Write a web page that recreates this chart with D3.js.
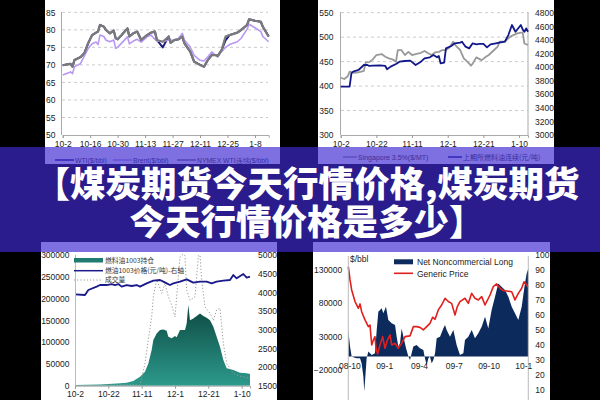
<!DOCTYPE html>
<html>
<head>
<meta charset="utf-8">
<script src="https://cdn.jsdelivr.net/npm/d3@7"></script>
<style>
  body { margin: 0; background: #000; }
  svg { display: block; }
</style>
</head>
<body>
<div id="chart"></div>
<script>
// Panel 1: crude oil prices (days since 10-2)
const oilDays = [0,4,5,6,9,11,13,15,17,18,19,21,22,24,26,27,28,30,33,34,36,38,40,43,45,47,48,51,54,55,57,59,61,62,65,67,70,72,74,76,78,79,81,83,85,89,91,94,95,98,101,102,105];
const wti = [69.9,70.3,69.5,71.4,72.2,73.3,76.2,78.5,79.2,79.5,81.4,80.9,80.0,79.0,79.8,77.6,77.3,78.5,80.4,78.1,79.0,79.5,77.1,78.5,79.2,79.5,77.1,75.0,78.1,76.3,77.1,77.3,78.1,76.2,73.8,70.9,70.0,69.5,71.4,72.8,72.8,72.5,74.2,77.0,78.5,79.2,80.0,81.4,83.0,82.6,82.3,80.9,78.1];
const brent = [67.1,68.0,67.5,69.5,70.3,72.5,74.7,76.0,76.5,75.8,78.5,78.1,77.1,76.6,77.1,74.7,75.0,76.2,78.0,76.0,76.8,77.3,76.5,78.0,78.5,77.3,76.8,76.6,77.1,77.0,77.1,77.5,79.0,77.1,75.1,72.7,71.3,71.1,72.3,73.7,72.7,72.3,73.8,75.0,75.8,76.6,77.6,80.2,81.6,80.6,79.5,78.1,76.6];
const nymex = [69.9,70.3,69.5,71.4,72.2,73.3,76.2,78.5,79.2,79.5,81.4,80.9,80.0,79.0,79.8,77.6,77.3,78.5,80.4,78.1,79.0,79.5,77.1,78.5,79.2,79.5,77.1,76.6,78.1,76.3,77.1,77.3,78.1,76.2,73.8,70.9,70.0,69.5,71.4,72.8,72.8,72.5,74.2,78.1,78.5,79.2,80.0,81.4,83.0,82.6,82.3,80.9,78.1];
const oilTickDays = [0,14,28,42,56,70,84,98];
const oilTickLabels = ["10-2","10-16","10-30","11-13","11-27","12-11","12-25","1-8"];
const oilYTicks = [50,55,60,65,70,75,80,85];
const oilLegend = ["WTI($/bbl)","Brent($/bbl)","NYMEX WTI连续($/bbl)"];

// Panel 2: fuel oil, Singapore vs Shanghai
const sgDays = [0,2,4,5,8,11,13,14,16,18,20,23,25,27,29,31,32,34,36,38,40,42,45,47,49,51,53,55,57,59,61,63,65,67,69,71,73,74,76,79,81,83,86,88,89,92,95,99,102,103,105];
const singapore = [417,414.5,420,429.5,427,429,431,448.5,449,454.6,463.5,465.5,460,456.7,454.6,450,473.7,473.7,463.5,470,463.5,465.5,468,471.7,467,463.5,469,470,473.7,473.7,479,490.7,480.5,473.7,456.7,450,441.7,446,458.7,453,458.7,463.5,473.7,480.5,490.7,490.7,501,507.8,509.8,487,484];
const shDays = [0,5,6,7,10,13,15,16,18,22,25,26,28,31,33,36,39,42,45,47,50,52,54,55,56,58,59,62,64,67,68,70,72,74,76,78,80,82,84,87,89,92,94,96,98,101,102,103,104,105];
const shanghai = [3712,3712,3908,3932,3957,4030,4030,4016,4020,4025,4016,3967,4006,4045,4079,4089,4094,4030,4079,4128,4143,4177,4143,4162,4055,4065,4275,4310,4349,4359,4373,4300,4275,4349,4334,4340,4340,4290,4334,4349,4359,4373,4471,4619,4520,4619,4555,4520,4570,4520];
const fuelTickDays = [0,20,40,60,80,100];
const fuelTickLabels = ["10-2","10-22","11-11","12-1","12-21","1-10"];
const fuelLeftTicks = [300,350,400,450,500,550];
const fuelRightTicks = [3000,3200,3400,3600,3800,4000,4200,4400,4600,4800];
const fuelLegend = ["Singapore 3.5%($/MT)","上期所燃料油连续(元/吨)"];

// Panel 3: fuel oil 1003 open interest, price, volume
const oiDays = [0,15,25,31,35,39,42,44,46,47,49,51,53,55,56,58,60,61,63,66,67,68,69,71,73,75,77,79,81,83,85,87,89,91,95,99,103,105];
const openInterest = [1500,3000,5000,7000,11000,20700,32000,51000,82000,105000,120000,128000,129000,126000,112500,108700,114000,111000,128000,128000,143000,185000,150000,154000,160000,166000,160000,156000,150000,135500,112500,89500,59000,40000,36000,30000,28300,26800];
const priceDays = [0,6,8,13,15,19,22,24,26,28,31,34,37,39,43,47,51,53,55,57,59,63,67,71,75,79,82,85,89,93,95,97,101,103,105];
const price1003 = [3946,3929,4062,4152,4196,4196,4223,4196,4223,4152,4196,4170,4196,4152,4241,4312,4330,4286,4241,4196,4241,4286,4348,4259,4286,4286,4241,4286,4312,4330,4464,4375,4491,4393,4420];
const volDays = [0,20,30,39,42,44,46,47,49,51,52,54,56,58,60,61,63,65,66,67,69,72,74,75,76,78,81,83,85,87,89,91,95,99,105];
const volume = [0,1000,2000,1800,51000,105000,158000,204000,243000,224000,212000,235000,204000,185000,158000,204000,296000,302000,298000,220000,196000,204000,298000,300000,243000,181000,166000,150000,174000,178000,97000,51000,28000,22000,17000];
const oiLeftTicks = [0,50000,100000,150000,200000,250000,300000];
const oiRightTicks = [1500,2000,2500,3000,3500,4000,4500,5000];
const oiLegend = ["燃料油1003持仓","燃油1003价格(元/吨)-右轴","成交量"];

// Panel 4: net noncommercial long vs generic price (months since 08-10)
const nncMonths = [-0.09,0.06,0.2,0.34,0.63,0.92,1.06,1.21,1.29,1.38,1.49,1.64,1.93,2.21,2.36,2.5,2.79,2.93,3.16,3.36,3.65,3.94,4.08,4.22,4.37,4.51,4.66,4.89,5.09,5.23,5.37,5.52,5.8,6.09,6.38,6.52,6.67,6.81,6.95,7.1,7.24,7.39,7.53,7.82,8.1,8.25,8.39,8.68,8.97,9.25,9.54,9.83,9.97,10.26,10.55,10.83,11.12,11.41,11.7,11.98,12.27,12.56,12.84,12.99,13.42,13.71,14,14.28,14.57,14.86,15.14,15.29,15.43];
const nncLong = [39600,14850,0,-1000,-2500,-2500,-9900,-29700,-52000,-29700,-2500,7400,2500,5000,39600,66800,71800,64400,74300,54500,49500,47000,29700,14850,19800,42000,29700,12400,0,-5000,5000,14850,17300,12400,9900,-2500,-12400,-2500,0,-9900,-5000,4950,27200,29700,42000,47000,39600,29700,39600,17300,2500,4950,24750,29700,39600,27200,34700,44600,59400,42000,69300,89100,108900,106400,99000,89100,74300,64400,54500,74300,108900,123800,131200];
const gpMonths = [-0.09,0.06,0.2,0.49,0.78,0.92,1.06,1.35,1.64,1.78,1.93,2.07,2.21,2.3,2.44,2.64,2.87,3.07,3.28,3.51,3.65,3.94,4.22,4.51,4.8,5.23,5.52,5.8,6.09,6.38,6.67,6.95,7.18,7.39,7.67,7.96,8.25,8.53,8.82,9.11,9.31,9.54,9.97,10.26,10.55,10.83,11.12,11.41,11.7,12.13,12.41,12.7,12.99,13.28,13.56,14,14.28,14.57,14.86,15.06,15.29,15.43];
const genericPrice = [92.2,83.3,76.6,68.8,64.3,67.2,62,56.5,52,53.1,39.7,43,45.3,37.5,33.7,39.7,45.3,37.5,43,46.4,39.7,40.8,37.5,40.8,45.3,45.8,52,52,51.5,49.8,52,54.2,58.3,56.9,63.2,66.5,71,68.8,67.6,59.8,65.4,68.8,71,67.6,74.3,71,69.9,72.1,66.5,73.2,78.8,80.6,77.7,76.1,75.9,75.4,69.9,74.3,77.7,82.1,79.9,78.3];
const cftcTickMonths = [0,3,6,9,12,15];
const cftcTickLabels = ["08-10","09-1","09-4","09-7","09-10","10-1"];
const cftcLeftTicks = [130000,80000,30000,-20000];
const cftcRightTicks = [10,20,30,40,50,60,70,80,90,100];

// Banner text
const bannerLines = ["【煤炭期货今天行情价格,煤炭期货", "今天行情价格是多少】"];

const width = 600;
const height = 400;
const font = "'Liberation Sans', Arial, sans-serif";
const cjk = "'Noto Sans CJK SC', sans-serif";
const plain = d3.format("d");

// Create the SVG Container
const svg = d3.select("#chart")
  .append("svg")
  .attr("width", width)
  .attr("height", height);

svg.append("rect").attr("width", width).attr("height", height).attr("fill", "#000");

// Helper to style axes
function styleAxis(g, noDomain) {
  g.attr("font-family", font).attr("font-size", 8.5);
  g.selectAll("text").attr("fill", "#222");
  g.selectAll(".tick line").attr("stroke", "#999");
  if (noDomain) g.select(".domain").remove();
  else g.select(".domain").attr("stroke", "#aaa");
}

// Helper to draw a line series
function drawLine(g, xs, ys, x, y, color, w, dash) {
  const line = d3.line().x((d, i) => x(xs[i])).y(d => y(d));
  g.append("path")
    .datum(ys)
    .attr("d", line)
    .attr("fill", "none")
    .attr("stroke", color)
    .attr("stroke-width", w)
    .attr("stroke-linejoin", "round")
    .attr("stroke-dasharray", dash || null);
}

// Helper to draw a white panel with clip
function panel(id, x0, y0, w, h) {
  svg.append("defs").append("clipPath").attr("id", id)
    .append("rect").attr("x", x0).attr("y", y0).attr("width", w).attr("height", h);
  const g = svg.append("g").attr("clip-path", "url(#" + id + ")");
  g.append("rect").attr("x", x0).attr("y", y0).attr("width", w).attr("height", h).attr("fill", "#fff");
  return g;
}

// ---------- Panel 1 ----------
const p1 = panel("c1", 45, 0, 235, 164);
const x1 = d3.scaleLinear().domain([0, 105]).range([62.7, 268.7]);
const y1 = d3.scaleLinear().domain([50, 85]).range([135, 12.3]);

p1.selectAll(".grid1")
  .data(oilYTicks.slice(1))
  .enter()
  .append("line")
  .attr("x1", 62).attr("x2", 268)
  .attr("y1", d => y1(d)).attr("y2", d => y1(d))
  .attr("stroke", "#ccc").attr("stroke-dasharray", "3,3");

p1.append("line").attr("x1", 61.5).attr("x2", 61.5).attr("y1", 12).attr("y2", 135).attr("stroke", "#aaa");

p1.append("g").attr("transform", "translate(61.5,0)")
  .call(d3.axisLeft(y1).tickValues(oilYTicks).tickFormat(plain).tickSize(0).tickPadding(6))
  .call(g => styleAxis(g, true));

p1.append("g").attr("transform", "translate(0,135)")
  .call(d3.axisBottom(x1).tickValues(oilTickDays).tickFormat((d, i) => oilTickLabels[i]).tickSize(3).tickPadding(3))
  .call(g => styleAxis(g, false));

drawLine(p1, oilDays, wti, x1, y1, "#1a1a80", 2);
drawLine(p1, oilDays, brent, x1, y1, "#b898f2", 1.6);
drawLine(p1, oilDays, nymex, x1, y1, "#7a7a7a", 2.2);

// Legend panel 1
const leg1Colors = ["#1a1a80", "#b898f2", "#7a7a7a"];
const leg1X = [55, 113, 177];
oilLegend.forEach((d, i) => {
  p1.append("line").attr("x1", leg1X[i]).attr("x2", leg1X[i] + 19).attr("y1", 160).attr("y2", 160).attr("stroke", leg1Colors[i]).attr("stroke-width", 1.5);
  p1.append("text").attr("x", leg1X[i] + 20).attr("y", 162.5).attr("font-family", font).attr("font-size", 6.8).attr("fill", "#333").text(d);
});

// ---------- Panel 2 ----------
const p2 = panel("c2", 318, 0, 236, 164);
const x2 = d3.scaleLinear().domain([0, 105]).range([340.7, 528]);
const y2L = d3.scaleLinear().domain([300, 550]).range([135, 12.7]);
const y2R = d3.scaleLinear().domain([3000, 4800]).range([135, 12.7]);

p2.selectAll(".grid2")
  .data(fuelLeftTicks.slice(1))
  .enter()
  .append("line")
  .attr("x1", 341).attr("x2", 528)
  .attr("y1", d => y2L(d)).attr("y2", d => y2L(d))
  .attr("stroke", "#ccc").attr("stroke-dasharray", "3,3");

p2.append("line").attr("x1", 340.5).attr("x2", 340.5).attr("y1", 12).attr("y2", 135).attr("stroke", "#aaa");
p2.append("line").attr("x1", 528).attr("x2", 528).attr("y1", 12).attr("y2", 135).attr("stroke", "#aaa");

p2.append("g").attr("transform", "translate(340.5,0)")
  .call(d3.axisLeft(y2L).tickValues(fuelLeftTicks).tickFormat(plain).tickSize(0).tickPadding(7))
  .call(g => styleAxis(g, true));

p2.append("g").attr("transform", "translate(528,0)")
  .call(d3.axisRight(y2R).tickValues(fuelRightTicks).tickFormat(plain).tickSize(0).tickPadding(7))
  .call(g => styleAxis(g, true));

p2.append("g").attr("transform", "translate(0,135)")
  .call(d3.axisBottom(x2).tickValues(fuelTickDays).tickFormat((d, i) => fuelTickLabels[i]).tickSize(3).tickPadding(3))
  .call(g => styleAxis(g, false));

drawLine(p2, sgDays, singapore, x2, y2L, "#999", 1.8);
drawLine(p2, shDays, shanghai, x2, y2R, "#12188a", 1.8);

const leg2Colors = ["#999", "#12188a"];
const leg2X = [343, 448];
fuelLegend.forEach((d, i) => {
  p2.append("line").attr("x1", leg2X[i]).attr("x2", leg2X[i] + 14).attr("y1", 157).attr("y2", 157).attr("stroke", leg2Colors[i]).attr("stroke-width", 1.5);
  p2.append("text").attr("x", leg2X[i] + 15).attr("y", 159.5).attr("font-family", i ? cjk : font).attr("font-size", 7).attr("fill", "#333").text(d);
});

// ---------- Panel 3 ----------
const p3 = panel("c3", 41, 242, 236, 158);
const x3 = d3.scaleLinear().domain([0, 105]).range([75, 250]);
const y3L = d3.scaleLinear().domain([0, 300000]).range([385.7, 255]);
const y3R = d3.scaleLinear().domain([1500, 5000]).range([385.7, 255]);

const grad = svg.append("defs").append("linearGradient")
  .attr("id", "teal").attr("gradientUnits", "userSpaceOnUse")
  .attr("x1", 0).attr("x2", 0).attr("y1", 310).attr("y2", 386);
grad.append("stop").attr("offset", 0).attr("stop-color", "#0f4d45");
grad.append("stop").attr("offset", 1).attr("stop-color", "#2c9a8c");

const area3 = d3.area()
  .x((d, i) => x3(oiDays[i]))
  .y0(y3L(0))
  .y1(d => y3L(d));
p3.append("path").datum(openInterest).attr("d", area3).attr("fill", "url(#teal)");

drawLine(p3, volDays, volume, x3, y3L, "#999", 1, "1.2,2");
drawLine(p3, priceDays, price1003, x3, y3R, "#1a1a8a", 1.8);

p3.append("line").attr("x1", 75.5).attr("x2", 75.5).attr("y1", 255).attr("y2", 386).attr("stroke", "#bbb");

p3.append("g").attr("transform", "translate(75.5,0)")
  .call(d3.axisLeft(y3L).tickValues(oiLeftTicks).tickFormat(plain).tickSize(0).tickPadding(6))
  .call(g => styleAxis(g, true));

p3.append("g").attr("transform", "translate(250,0)")
  .call(d3.axisRight(y3R).tickValues(oiRightTicks).tickFormat(plain).tickSize(0).tickPadding(8))
  .call(g => styleAxis(g, true));

p3.append("g").attr("transform", "translate(0,385.7)")
  .call(d3.axisBottom(x3).tickValues(fuelTickDays).tickFormat((d, i) => fuelTickLabels[i]).tickSize(3).tickPadding(2))
  .call(g => styleAxis(g, false));

// Legend panel 3
p3.append("rect").attr("x", 74).attr("y", 258).attr("width", 29).attr("height", 4.5).attr("fill", "#1f7a70");
p3.append("line").attr("x1", 74).attr("x2", 103).attr("y1", 270.7).attr("y2", 270.7).attr("stroke", "#1a1a8a").attr("stroke-width", 1.5);
p3.append("line").attr("x1", 74).attr("x2", 103).attr("y1", 280).attr("y2", 280).attr("stroke", "#999").attr("stroke-dasharray", "1.2,2");
p3.selectAll(".leg3")
  .data(oiLegend)
  .enter()
  .append("text")
  .attr("x", 105)
  .attr("y", (d, i) => 263 + i * 9.6)
  .attr("font-family", cjk)
  .attr("font-size", 6.8)
  .attr("fill", "#333")
  .text(d => d);

// ---------- Panel 4 ----------
const p4 = panel("c4", 313, 242, 237, 158);
const x4 = d3.scaleLinear().domain([-0.09, 15.43]).range([348.3, 528.3]);
const y4L = d3.scaleLinear().domain([-20000, 130000]).range([370, 269.3]);
const y4R = d3.scaleLinear().domain([10, 100]).range([389.3, 255]);

const area4 = d3.area()
  .x((d, i) => x4(nncMonths[i]))
  .y0(y4L(0))
  .y1(d => y4L(d));
p4.append("path").datum(nncLong).attr("d", area4).attr("fill", "#0c2a5c");

drawLine(p4, gpMonths, genericPrice, x4, y4R, "#e0201c", 1.6);

p4.append("line").attr("x1", 348.3).attr("x2", 348.3).attr("y1", 256).attr("y2", 400).attr("stroke", "#bbb");
p4.append("line").attr("x1", 528.3).attr("x2", 528.3).attr("y1", 256).attr("y2", 400).attr("stroke", "#bbb");

p4.append("g").attr("transform", "translate(348.3,0)")
  .call(d3.axisLeft(y4L).tickValues(cftcLeftTicks).tickFormat(plain).tickSize(0).tickPadding(6))
  .call(g => styleAxis(g, true));

p4.append("g").attr("transform", "translate(528.3,0)")
  .call(d3.axisRight(y4R).tickValues(cftcRightTicks).tickFormat(plain).tickSize(0).tickPadding(7))
  .call(g => styleAxis(g, true));

p4.append("g").attr("transform", "translate(0," + y4L(0) + ")")
  .call(d3.axisBottom(x4).tickValues(cftcTickMonths).tickFormat((d, i) => cftcTickLabels[i]).tickSize(0).tickPadding(6))
  .call(g => styleAxis(g, true));

p4.append("text").attr("x", 350).attr("y", 262).attr("font-family", font).attr("font-size", 8.5).attr("fill", "#222").text("$/bbl");
p4.append("rect").attr("x", 394).attr("y", 259.3).attr("width", 19).attr("height", 5).attr("fill", "#0c2a5c");
p4.append("text").attr("x", 417).attr("y", 265).attr("font-family", font).attr("font-size", 8.5).attr("fill", "#222").text("Net Noncommercial Long");
p4.append("line").attr("x1", 394).attr("x2", 413).attr("y1", 273.3).attr("y2", 273.3).attr("stroke", "#e0201c").attr("stroke-width", 1.6);
p4.append("text").attr("x", 417).attr("y", 276.5).attr("font-family", font).attr("font-size", 8.5).attr("fill", "#222").text("Generic Price");

// ---------- Banner ----------
svg.append("rect")
  .attr("x", 0).attr("y", 147)
  .attr("width", width).attr("height", 105)
  .attr("fill", "rgb(63,42,209)")
  .attr("fill-opacity", 0.67);

svg.selectAll(".banner")
  .data(bannerLines)
  .enter()
  .append("text")
  .attr("x", 307)
  .attr("y", (d, i) => 197 + i * 38)
  .attr("text-anchor", "middle")
  .attr("font-family", cjk)
  .attr("font-weight", 900)
  .attr("font-size", 35.5)
  .attr("fill", "#fff")
  .text(d => d);
</script>
</body>
</html>
